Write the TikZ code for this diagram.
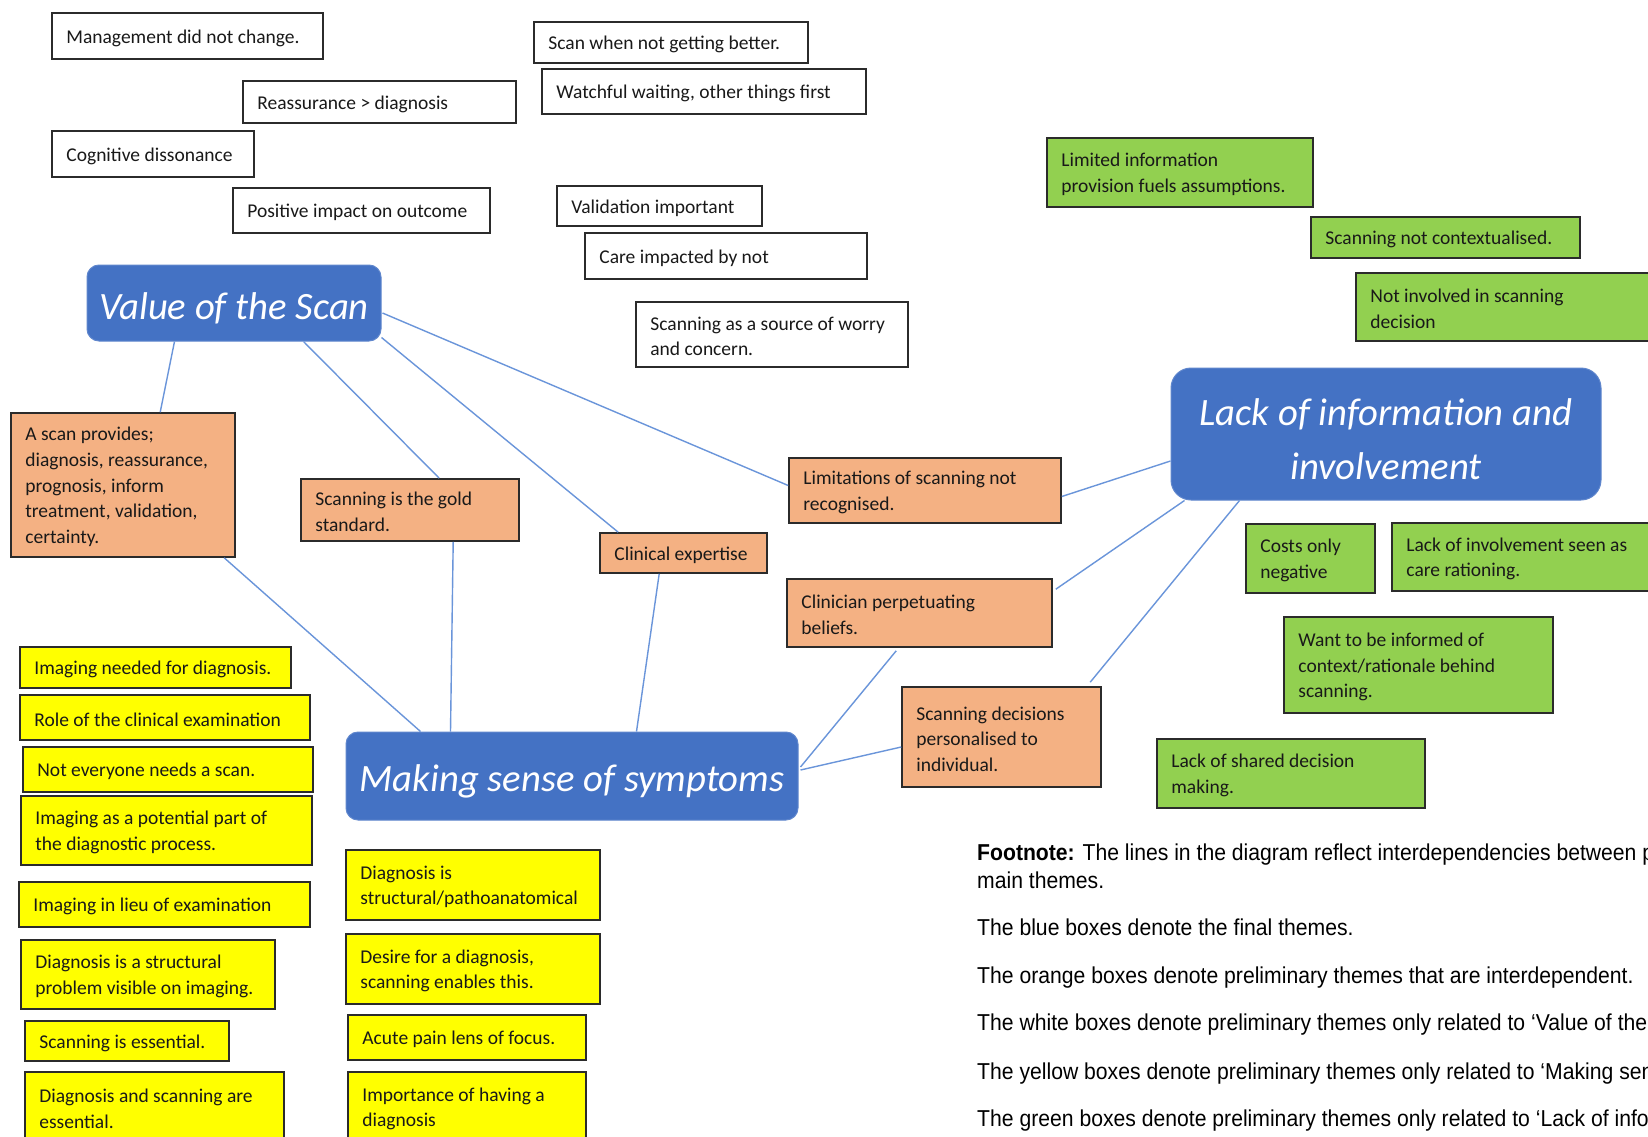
\documentclass[tikz,border=0pt]{standalone}
\usepackage{fontspec}
\setmainfont{Carlito}
\newfontfamily\notefont[FakeStretch=0.92]{Liberation Sans}
\usetikzlibrary{calc}

\definecolor{themeblue}{HTML}{4472C4}
\definecolor{peach}{HTML}{F4B183}
\definecolor{lime}{HTML}{92D050}
\definecolor{brightyellow}{HTML}{FFFF00}
\definecolor{linkblue}{HTML}{6A95DA}
\definecolor{edge}{HTML}{2B2B2B}

\tikzset{
  card/.style={rectangle, draw=edge, line width=1.6pt, inner sep=0pt},
  whitecard/.style={card, fill=white},
  orangecard/.style={card, fill=peach},
  yellowcard/.style={card, fill=brightyellow},
  greencard/.style={card, fill=lime},
  cardtext/.style={inner sep=0pt, align=left, text=black!90,
    font=\fontsize{19.5}{25.7}\selectfont},
  theme/.style={rectangle, fill=themeblue, draw=themeblue!85!white, line width=1pt,
    inner sep=0pt},
  themetext/.style={inner sep=0pt, text=white, align=center,
    font=\fontsize{38.7}{54}\selectfont\itshape},
  link/.style={draw=linkblue, line width=1.4pt},
  note/.style={inner sep=0pt, anchor=base west, text=black,
    font=\notefont\fontsize{23}{28}\selectfont},
}

% card: style, name, left, top, right, bottom, text (left aligned, centred vertically)
\newcommand\card[7]{%
  \pgfmathsetmacro\cardw{#5-#3}\pgfmathsetmacro\cardh{#6-#4}%
  \node[#1, minimum width=\cardw pt, minimum height=\cardh pt] (#2) at ({(#3+#5)/2},{(#4+#6)/2}) {};
  \node[cardtext, anchor=west] (#2text) at ($(#2.west)+(15,2)$) {#7};
}
% theme box: name, left, top, right, bottom, corner radius, text
\newcommand\themecard[7]{%
  \pgfmathsetmacro\cardw{#4-#2}\pgfmathsetmacro\cardh{#5-#3}%
  \node[theme, rounded corners=#6pt, minimum width=\cardw pt, minimum height=\cardh pt] (#1) at ({(#2+#4)/2},{(#3+#5)/2}) {};
  \node[themetext] (#1text) at ($(#1.center)+(0,5.5)$) {#7};
}

\begin{document}
\begin{tikzpicture}[x=1pt,y=-1pt]
\path[use as bounding box] (0,0) rectangle (1648,1137);
\clip (0,0) rectangle (1648,1137);
\fill[white] (0,0) rectangle (1648,1137);

% final themes
\themecard{value}{87}{265}{381}{341}{12}{Value of the Scan}
\themecard{lack}{1171}{368}{1601}{500}{20}{Lack of information and\\involvement}
\themecard{sense}{346}{732}{798}{820}{12}{Making sense of symptoms}

% themes related only to the value of the scan
\card{whitecard}{w1}{52}{13}{323}{59}{Management did not change.}
\card{whitecard}{w2}{243}{81}{516}{123}{Reassurance > diagnosis}
\card{whitecard}{w3}{52}{131}{254}{177}{Cognitive dissonance}
\card{whitecard}{w4}{233}{188}{490}{233}{Positive impact on outcome}
\card{whitecard}{w5}{534}{22}{808}{63}{Scan when not getting better.}
\card{whitecard}{w6}{542}{69}{866}{114}{Watchful waiting, other things first}
\card{whitecard}{w7}{557}{186}{762}{226}{Validation important}
\card{whitecard}{w8}{585}{233}{867}{279}{Care impacted by not}
\card{whitecard}{w9}{636}{302}{908}{367}{Scanning as a source of worry\\and concern.}

% interdependent preliminary themes
\card{orangecard}{o1}{11}{413}{235}{557}{A scan provides;\\diagnosis, reassurance,\\prognosis, inform\\treatment, validation,\\certainty.}
\card{orangecard}{o2}{301}{479}{519}{541}{Scanning is the gold\\standard.}
\card{orangecard}{o3}{600}{533}{767}{573}{Clinical expertise}
\card{orangecard}{o4}{789}{458}{1061}{523}{Limitations of scanning not\\recognised.}
\card{orangecard}{o5}{787}{579}{1052}{647}{Clinician perpetuating\\beliefs.}
\card{orangecard}{o6}{902}{687}{1101}{787}{Scanning decisions\\personalised to\\individual.}

% themes related only to information and involvement
\card{greencard}{g1}{1047}{138}{1313}{207}{Limited information\\provision fuels assumptions.}
\card{greencard}{g2}{1311}{217}{1580}{258}{Scanning not contextualised.}
\card{greencard}{g3}{1356}{273}{1662}{341}{Not involved in scanning\\decision}
\card{greencard}{g4}{1246}{524}{1375}{593}{Costs only\\negative}
\card{greencard}{g5}{1392}{523}{1662}{591}{Lack of involvement seen as\\care rationing.}
\card{greencard}{g6}{1284}{617}{1553}{713}{Want to be informed of\\context/rationale behind\\scanning.}
\card{greencard}{g7}{1157}{739}{1425}{808}{Lack of shared decision\\making.}

% themes related only to making sense of symptoms
\card{yellowcard}{y1}{20}{647}{291}{688}{Imaging needed for diagnosis.}
\card{yellowcard}{y2}{20}{695}{310}{740}{Role of the clinical examination}
\card{yellowcard}{y3}{23}{747}{313}{792}{Not everyone needs a scan.}
\card{yellowcard}{y4}{21}{796}{312}{865}{Imaging as a potential part of\\the diagnostic process.}
\card{yellowcard}{y5}{19}{882}{310}{927}{Imaging in lieu of examination}
\card{yellowcard}{y6}{21}{940}{275}{1009}{Diagnosis is a structural\\problem visible on imaging.}
\card{yellowcard}{y7}{25}{1021}{229}{1061}{Scanning is essential.}
\card{yellowcard}{y8}{25}{1072}{284}{1142}{Diagnosis and scanning are\\essential.}
\card{yellowcard}{y9}{346}{850}{600}{920}{Diagnosis is\\structural/pathoanatomical}
\card{yellowcard}{y10}{346}{934}{600}{1004}{Desire for a diagnosis,\\scanning enables this.}
\card{yellowcard}{y11}{348}{1015}{586}{1060}{Acute pain lens of focus.}
\card{yellowcard}{y12}{348}{1072}{586}{1142}{Importance of having a\\diagnosis}

% interdependencies
\draw[link] ($(value.south west)+(88,0)$) -- ($(o1.north west)+(150,0)$);
\draw[link] ($(value.south west)+(217,0)$) -- ($(o2.north west)+(139,0)$);
\draw[link] ($(value.south east)+(0,-4)$) -- ($(o3.north west)+(19,0)$);
\draw[link] ($(value.east)+(1,10)$) -- ($(o4.west)+(0,-5)$);
\draw[link] ($(o1.south west)+(214,0)$) -- ($(sense.north west)+(75,0)$);
\draw[link] ($(o2.south west)+(153,0)$) -- ($(sense.north west)+(105,0)$);
\draw[link] ($(o3.south west)+(60,0)$) -- ($(sense.north west)+(291,0)$);
\draw[link] ($(o4.east)+(0,6)$) -- ($(lack.west)+(0,27)$);
\draw[link] ($(o5.north east)+(3,11)$) -- ($(lack.south west)+(14,0)$);
\draw[link] ($(o5.south west)+(110,3)$) -- ($(sense.east)+(2,-9)$);
\draw[link] ($(o6.west)+(0,10)$) -- ($(sense.east)+(2,-6)$);
\draw[link] ($(o6.north west)+(189,-4)$) -- ($(lack.south west)+(69,0)$);

% footnote
\node[note] (fn1) at (977,860) {\textbf{Footnote:} The lines in the diagram reflect interdependencies between preliminary themes and};
\node[note] (fn2) at (977,888) {main themes.};
\node[note] (fn3) at (977,935) {The blue boxes denote the final themes.};
\node[note] (fn4) at (977,983) {The orange boxes denote preliminary themes that are interdependent.};
\node[note] (fn5) at (977,1030) {The white boxes denote preliminary themes only related to ‘Value of the Scan’.};
\node[note] (fn6) at (977,1079) {The yellow boxes denote preliminary themes only related to ‘Making sense of symptoms’.};
\node[note] (fn7) at (977,1126) {The green boxes denote preliminary themes only related to ‘Lack of information and involvement’.};
\end{tikzpicture}
\end{document}
